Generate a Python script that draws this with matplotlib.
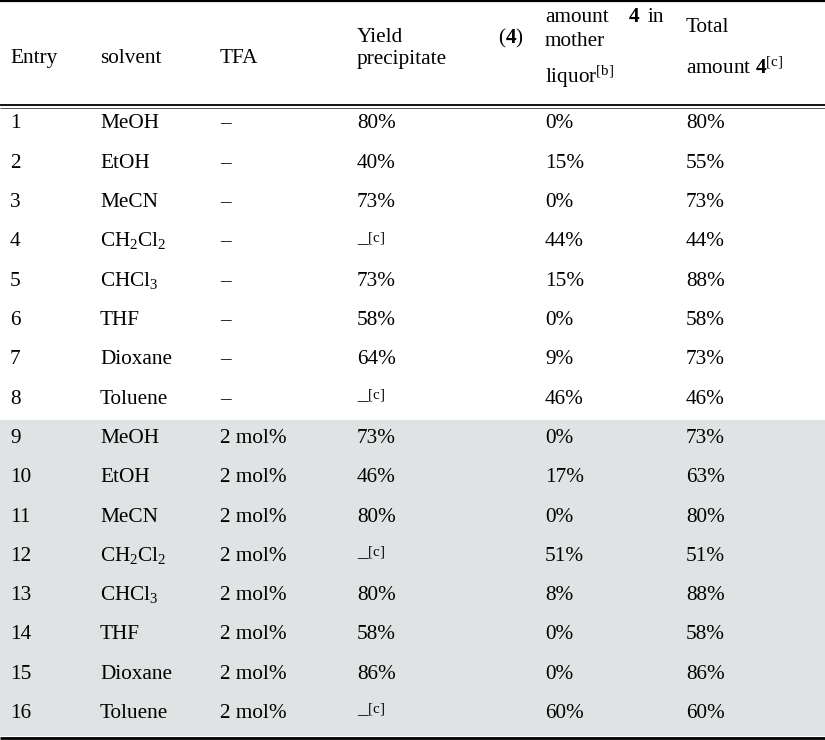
import matplotlib

matplotlib.use("Agg")

import matplotlib.pyplot as plt
from matplotlib.patches import Rectangle

plt.rcParams["font.family"] = ["Liberation Serif", "DejaVu Serif"]
plt.rcParams["mathtext.fontset"] = "custom"
plt.rcParams["mathtext.rm"] = "Liberation Serif"
plt.rcParams["mathtext.it"] = "Liberation Serif:italic"
plt.rcParams["mathtext.bf"] = "Liberation Serif:bold"

# --- Dados da tabela ------------------------------------------------------
entradas = list(range(1, 17))
solventes = ["MeOH", "EtOH", "MeCN", "CH2Cl2", "CHCl3", "THF", "Dioxane", "Toluene"] * 2
tfa = ["–"] * 8 + ["2 mol%"] * 8
rend_precipitado = [80, 40, 73, None, 73, 58, 64, None, 73, 46, 80, None, 80, 58, 86, None]
agua_mae = [0, 15, 0, 44, 15, 0, 9, 46, 0, 17, 0, 51, 8, 0, 0, 60]
total = [80, 55, 73, 44, 88, 58, 73, 46, 73, 63, 80, 51, 88, 58, 86, 60]

ROTULO_SOLV = {
    "CH2Cl2": r"CH$_\mathregular{2}$Cl$_\mathregular{2}$",
    "CHCl3": r"CHCl$_\mathregular{3}$",
}

# --- Layout (pixels) --------------------------------------------------------
W, H = 825, 740
FS = 15.3
COL_X = [10, 100, 220, 357, 545, 686]
Y0, DY = 128.5, 39.3          # baseline da linha 1 e espaçamento
COR_SOMBRA = "#dfe3e3"

fig = plt.figure(figsize=(W / 100, H / 100), dpi=100)
ax = fig.add_axes([0, 0, 1, 1])
ax.set_xlim(0, W)
ax.set_ylim(H, 0)
ax.axis("off")

# faixa sombreada das entradas com TFA
ax.add_patch(Rectangle((0, 420), W, 316, facecolor=COR_SOMBRA, edgecolor="none", zorder=0))

# linhas horizontais
ax.plot([0, W], [1.2, 1.2], color="black", lw=1.6, solid_capstyle="butt")
ax.plot([0, W], [105.2, 105.2], color="black", lw=1.3, solid_capstyle="butt")
ax.plot([0, W], [108.0, 108.0], color="#555555", lw=0.7, solid_capstyle="butt")
ax.plot([0, W], [738.0, 738.0], color="black", lw=2.0, solid_capstyle="butt")


def txt(x, y, s, **kw):
    kw.setdefault("fontsize", FS)
    kw.setdefault("va", "baseline")
    kw.setdefault("ha", "left")
    ax.text(x, y, s, color="black", **kw)


# cabeçalho
txt(COL_X[0], 63, "Entry")
txt(COL_X[1], 63, "solvent")
txt(COL_X[2], 63, "TFA")
txt(COL_X[3], 41.5, "Yield")
txt(COL_X[3], 64, "precipitate")
txt(524, 43, r"($\mathbf{4}$)", ha="right")
txt(COL_X[4], 22.5, "amount")
txt(628, 22.5, r"$\mathbf{4}$")
txt(648, 22.5, "in")
txt(COL_X[4], 46.5, "mother")
txt(COL_X[4], 83, r"liquor$^{\mathregular{[b]}}$")
txt(COL_X[5], 31.5, "Total")
txt(COL_X[5], 74, r"amount $\mathbf{4}^{\mathregular{[c]}}$")

# corpo
for i, (e, s, t, yp, am, tot) in enumerate(
    zip(entradas, solventes, tfa, rend_precipitado, agua_mae, total)
):
    yb = Y0 + i * DY
    txt(COL_X[0], yb, str(e))
    txt(COL_X[1], yb, ROTULO_SOLV.get(s, s))
    txt(COL_X[2], yb, t)
    if yp is None:
        txt(COL_X[3], yb, r"–$^{\mathregular{[c]}}$")
    else:
        txt(COL_X[3], yb, f"{yp}%")
    txt(COL_X[4], yb, f"{am}%")
    txt(COL_X[5], yb, f"{tot}%")

fig.savefig("out.png", dpi=100, facecolor="white")
